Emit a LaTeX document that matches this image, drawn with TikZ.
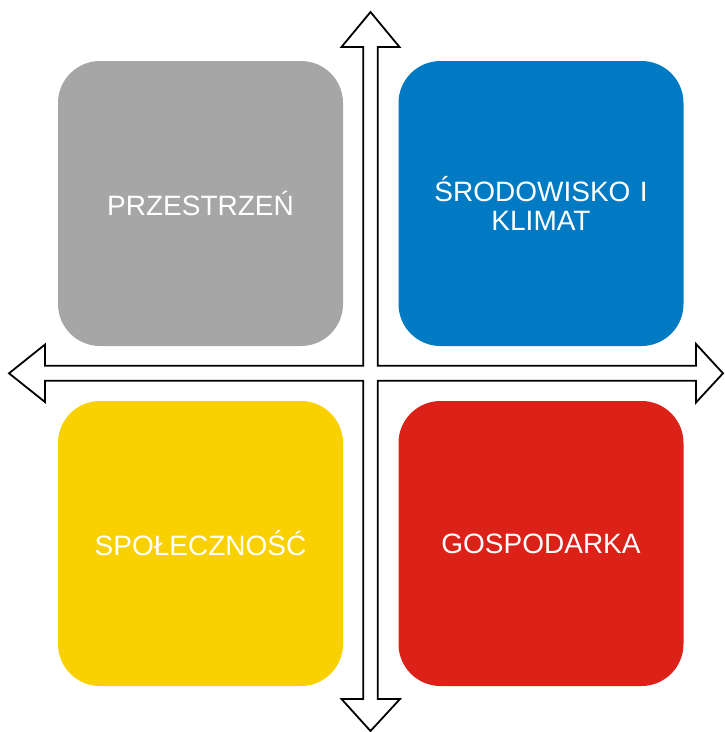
\documentclass[tikz,border=0pt]{standalone}
\usepackage{fontspec}
\setmainfont{Liberation Sans}
\usepackage{tikz}

\definecolor{areagray}{RGB}{166,166,166}
\definecolor{areablue}{RGB}{0,122,195}
\definecolor{areayellow}{RGB}{249,208,0}
\definecolor{areared}{RGB}{220,33,25}

\begin{document}
\begin{tikzpicture}[x=1pt,y=-1pt]
	\useasboundingbox (0,0) rectangle (724,732);
	\draw[line width=1.8pt,fill=white]
		(370.5,12) -- (399.5,47) -- (377.8,47) -- (377.8,365.8) -- (696,365.8) -- (696,344)
		-- (723,373.3) -- (696,402.5) -- (696,380.8) -- (377.8,380.8) -- (377.8,699) -- (400,699)
		-- (370.5,731) -- (341.5,699) -- (363.3,699) -- (363.3,380.8) -- (45,380.8) -- (45,402)
		-- (9,373.3) -- (45,344.5) -- (45,365.8) -- (363.3,365.8) -- (363.3,47) -- (341.5,47) -- cycle;
	\begin{scope}[every node/.style={rounded corners=42pt,minimum width=285pt,minimum height=285pt,
	              inner sep=0pt,text=white,text width=260pt,align=center,
	              font=\fontsize{28}{29.5}\selectfont}]
		\node[fill=areagray] (space) at (200.5,203.5) {PRZESTRZEŃ};
		\node[fill=areablue] (climate) at (541,203.5) {ŚRODOWISKO I\\KLIMAT};
		\node[fill=areayellow] (society) at (200.5,543.5) {SPOŁECZNOŚĆ};
		\node[fill=areared] (economy) at (541,543.5) {GOSPODARKA};
	\end{scope}
\end{tikzpicture}
\end{document}
